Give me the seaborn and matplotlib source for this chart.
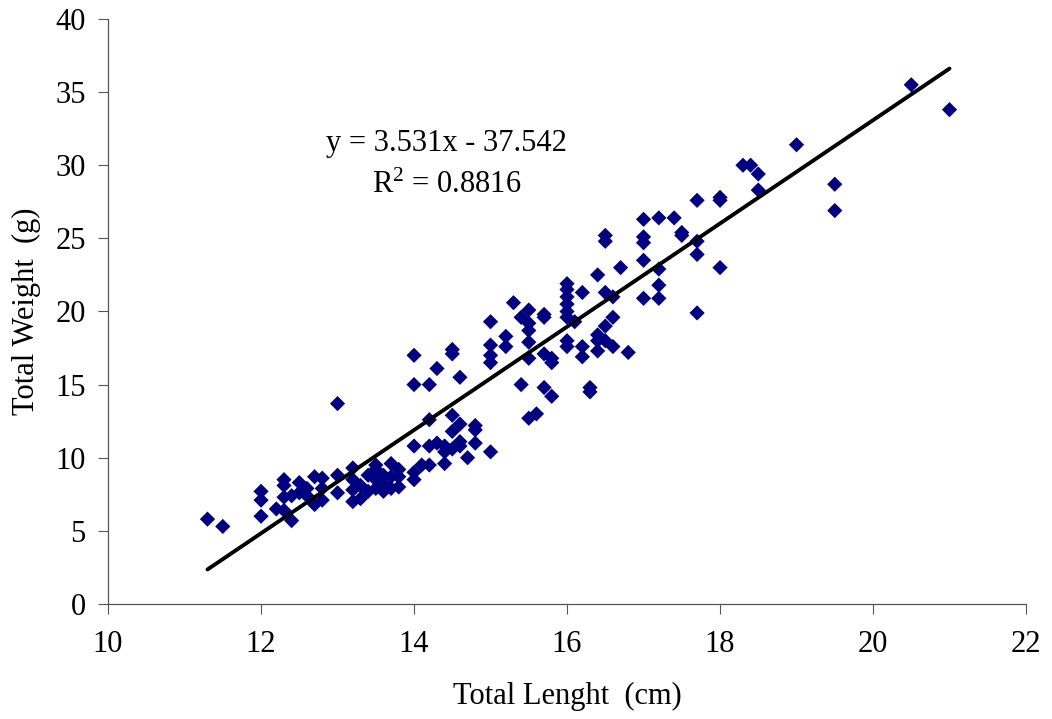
import numpy as np
import pandas as pd
import matplotlib
matplotlib.use("Agg")
import matplotlib.pyplot as plt
import seaborn as sns

# ---- data ----
length_cm = [
    11.3, 11.5,
    12.0, 12.0, 12.0, 12.2, 12.3, 12.3, 12.3, 12.3, 12.4, 12.4, 12.5, 12.5,
    12.6, 12.6, 12.7, 12.7, 12.8, 12.8, 12.8,
    13.0, 13.0, 13.0, 13.2, 13.2, 13.2, 13.2, 13.3, 13.3, 13.4, 13.4,
    13.5, 13.5, 13.5, 13.5, 13.6, 13.6, 13.6, 13.7, 13.7, 13.7, 13.8, 13.8, 13.8,
    14.0, 14.0, 14.0, 14.0, 14.0, 14.1, 14.2, 14.2, 14.2, 14.2, 14.3, 14.3,
    14.4, 14.4, 14.4, 14.5, 14.5, 14.5, 14.5, 14.5, 14.6, 14.6, 14.6, 14.6,
    14.7, 14.8, 14.8, 14.8,
    15.0, 15.0, 15.0, 15.0, 15.0, 15.2, 15.2, 15.3, 15.4, 15.4,
    15.5, 15.5, 15.5, 15.5, 15.5, 15.5, 15.6, 15.7, 15.7, 15.7, 15.7,
    15.8, 15.8, 15.8,
    16.0, 16.0, 16.0, 16.0, 16.0, 16.0, 16.0, 16.0, 16.1, 16.2, 16.2, 16.2,
    16.3, 16.3, 16.4, 16.4, 16.4, 16.4, 16.5, 16.5, 16.5, 16.5, 16.5,
    16.6, 16.6, 16.6, 16.7, 16.8,
    17.0, 17.0, 17.0, 17.0, 17.0, 17.2, 17.2, 17.2, 17.2, 17.4, 17.5, 17.5,
    17.7, 17.7, 17.7, 17.7, 18.0, 18.0, 18.0,
    18.3, 18.4, 18.5, 18.5, 19.0, 19.5, 19.5, 20.5, 21.0,
]
weight_g = [
    5.8, 5.3,
    7.7, 7.1, 6.0, 6.5, 8.5, 8.1, 7.3, 6.4, 5.7, 7.4, 8.3, 7.6,
    7.9, 7.4, 8.7, 6.8, 8.6, 7.1, 7.9,
    7.6, 8.8, 13.7, 9.3, 8.5, 7.0, 7.8, 8.1, 7.2, 8.8, 7.7,
    9.5, 9.2, 8.5, 7.9, 8.8, 7.7, 8.2, 9.6, 8.7, 7.9, 9.2, 8.0, 8.7,
    17.0, 15.0, 10.8, 9.0, 8.5, 9.5, 15.0, 12.6, 10.8, 9.5, 16.1, 11.0,
    9.6, 10.4, 10.8, 17.4, 17.1, 12.9, 11.8, 10.6, 15.5, 12.3, 11.1, 10.8,
    10.0, 12.2, 11.9, 11.0,
    19.3, 17.7, 17.0, 16.5, 10.4, 18.3, 17.6, 20.6, 19.6, 15.0,
    20.1, 19.2, 18.7, 17.9, 16.8, 12.7, 13.0, 19.8, 19.6, 17.1, 14.8,
    16.8, 16.5, 14.2,
    21.9, 21.5, 21.0, 20.5, 20.0, 19.6, 18.0, 17.6, 19.3, 21.3, 17.6, 16.9,
    14.8, 14.5, 22.5, 18.4, 18.0, 17.3, 25.2, 24.8, 21.3, 19.0, 18.0,
    21.0, 19.6, 17.6, 23.0, 17.2,
    26.3, 25.1, 24.7, 23.5, 20.9, 26.4, 22.9, 21.8, 20.9, 26.4, 25.4, 25.2,
    27.6, 24.8, 23.9, 19.9, 27.8, 27.6, 23.0,
    30.0, 30.0, 29.4, 28.3, 31.4, 28.7, 26.9, 35.5, 33.8,
]
slope = 3.531
intercept = -37.542
r_squared = 0.8816
x_ticks = [10, 12, 14, 16, 18, 20, 22]
y_ticks = [0, 5, 10, 15, 20, 25, 30, 35, 40]
x_label = "Total Lenght  (cm)"
y_label = "Total Weight  (g)"

df = pd.DataFrame({"length": length_cm, "weight": weight_g})
x_fit = np.array([min(length_cm), max(length_cm)])
fit_df = pd.DataFrame({"length": x_fit, "weight": slope * x_fit + intercept})

sns.set_style("white")
plt.rcParams["font.family"] = ["Liberation Serif", "DejaVu Serif"]
plt.rcParams["mathtext.fontset"] = "custom"
plt.rcParams["mathtext.rm"] = "Liberation Serif"
plt.rcParams["mathtext.it"] = "Liberation Serif:italic"
plt.rcParams["text.color"] = "black"
plt.rcParams["axes.labelcolor"] = "black"
plt.rcParams["xtick.color"] = "black"
plt.rcParams["ytick.color"] = "black"

fig = plt.figure(figsize=(10.52, 7.19), dpi=100)
ax = fig.add_axes([0.1027, 0.16, 0.8726, 0.8136])

sns.scatterplot(data=df, x="length", y="weight", ax=ax, marker="D",
                color="#000080", s=60, edgecolor="none", linewidth=0, zorder=3)
sns.lineplot(data=fit_df, x="length", y="weight", ax=ax, color="black",
             linewidth=2.8, zorder=4)

ax.set_xlim(10, 22)
ax.set_ylim(0, 40)
ax.set_xticks(x_ticks)
ax.set_yticks(y_ticks)
ax.tick_params(axis="both", which="major", direction="out", length=7,
               width=0.8, color="#555555", labelsize=22, labelcolor="black")
ax.tick_params(axis="y", left=True, pad=9)
ax.tick_params(axis="x", bottom=True, pad=12)

for side in ["top", "right"]:
    ax.spines[side].set_visible(False)
for side in ["left", "bottom"]:
    ax.spines[side].set_color("#555555")
    ax.spines[side].set_linewidth(0.9)

ax.set_xlabel(x_label, fontsize=22, labelpad=16)
ax.set_ylabel(y_label, fontsize=22, labelpad=10)

ax.text(14.43, 31.5, f"y = {slope}x - {abs(intercept)}", fontsize=22,
        ha="center", va="center")
ax.text(14.43, 28.6, "R$^2$ = " + f"{r_squared}", fontsize=22,
        ha="center", va="center")

fig.savefig("out.png", dpi=100)
